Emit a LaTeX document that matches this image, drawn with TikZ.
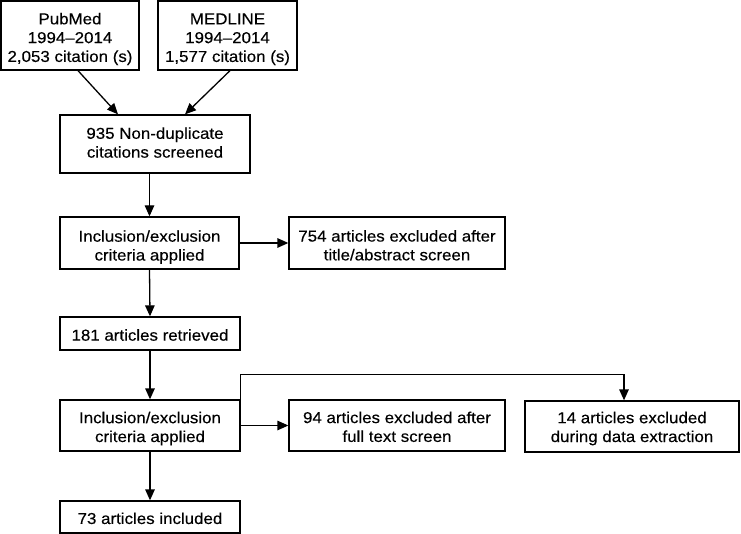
\documentclass[tikz,border=0pt]{standalone}
\usepackage{fontspec}
\setmainfont[FakeStretch=1.07,FakeBold=0.3]{Liberation Sans}
\usetikzlibrary{arrows.meta}
\newcommand\myup[1]{\rule{0pt}{#1}}
\newcommand\mydn[1]{\rule[-#1]{0pt}{#1}}
\begin{document}
\begin{tikzpicture}[x=1pt,y=-1pt,
  box/.style={draw, line width=1.3pt, inner sep=0pt, align=center, anchor=center,
    font=\fontsize{15.8}{18.8}\selectfont},
  arr/.style={line width=1.3pt, -{Triangle[length=11pt,width=9.5pt]}}]
\useasboundingbox (0,0) rectangle (741,534);
\node[box, minimum width=138pt, minimum height=69pt] (pub) at (70,35.5) {\myup{18.5pt}PubMed\\1994–2014\\2,053 citation (s)};
\node[box, minimum width=139pt, minimum height=69pt] (med) at (227.5,35.5) {\myup{18.5pt}MEDLINE\\1994–2014\\1,577 citation (s)};
\node[box, minimum width=190pt, minimum height=58pt] (n935) at (155,144) {935 Non-duplicate\\citations screened\mydn{3pt}};
\node[box, minimum width=179pt, minimum height=52pt] (inc1) at (149.5,243) {\myup{19.5pt}Inclusion/exclusion\\criteria applied};
\node[box, minimum width=216pt, minimum height=52pt] (ex754) at (397,243) {\myup{16.1pt}754 articles excluded after\\title/abstract screen};
\node[box, minimum width=180pt, minimum height=33pt] (r181) at (150,333.5) {\myup{14.5pt}181 articles retrieved};
\node[box, minimum width=180pt, minimum height=51pt] (inc2) at (150,425.5) {\myup{17.5pt}Inclusion/exclusion\\criteria applied};
\node[box, minimum width=216pt, minimum height=51pt] (ex94) at (397,425.5) {\myup{14.1pt}94 articles excluded after\\full text screen};
\node[box, minimum width=214pt, minimum height=51pt] (ex14) at (632,426.5) {\myup{15.5pt}14 articles excluded\\during data extraction};
\node[box, minimum width=180pt, minimum height=32pt] (r73) at (150,517) {\myup{14.1pt}73 articles included};
\draw[arr] ([xshift=8pt]pub.south) -- ([xshift=-37pt]n935.north);
\draw[arr] ([xshift=2.5pt]med.south) -- ([xshift=30pt]n935.north);
\draw[arr] (n935.south -| inc1.north) -- (inc1.north);
\draw[arr] (inc1.east) -- (ex754.west);
\draw[arr] (inc1.south) -- (r181.north);
\draw[arr] (r181.south) -- (inc2.north);
\draw[arr] (inc2.east) -- (ex94.west);
\draw[arr] (inc2.north east) -- ++(0,-25) -| ([xshift=-8pt]ex14.north);
\draw[arr] (inc2.south) -- (r73.north);
\end{tikzpicture}
\end{document}
